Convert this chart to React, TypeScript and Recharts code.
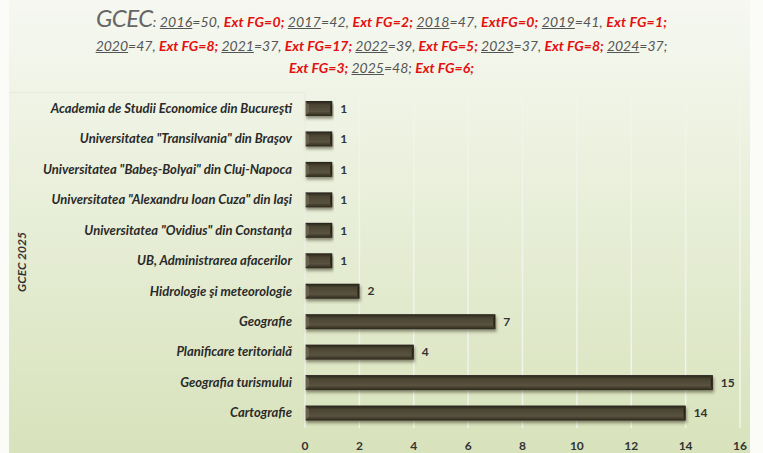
import React from 'react';
import {
  BarChart,
  Bar,
  XAxis,
  YAxis,
  CartesianGrid,
  LabelList,
} from 'recharts';

const categories = [
  'Academia de Studii Economice din Bucureşti',
  'Universitatea "Transilvania" din Braşov',
  'Universitatea "Babeş-Bolyai" din Cluj-Napoca',
  'Universitatea "Alexandru Ioan Cuza" din Iaşi',
  'Universitatea "Ovidius" din Constanţa',
  'UB, Administrarea afacerilor',
  'Hidrologie şi meteorologie',
  'Geografie',
  'Planificare teritorială',
  'Geografia turismului',
  'Cartografie',
];
const values = [1, 1, 1, 1, 1, 1, 2, 7, 4, 15, 14];
const xTicks = [0, 2, 4, 6, 8, 10, 12, 14, 16];

const years = ['2016', '2017', '2018', '2019', '2020', '2021', '2022', '2023', '2024', '2025'];
const totals = [50, 42, 47, 41, 47, 37, 39, 37, 37, 48];
const extFG = [0, 2, 0, 1, 8, 17, 5, 8, 3, 6];

const data = categories.map((name, i) => ({ name, value: values[i] }));

const FONT = 'Lato, "Open Sans", sans-serif';
const RED = '#e31010';
const GRAY = '#555';

function Entry({ i, extLabel = 'Ext FG', yearOnly = false }: any) {
  return (
    <span>
      <span style={{ textDecoration: 'underline' }}>{years[i]}</span>
      <span>={totals[i]}{yearOnly ? ';' : ','} </span>
      {!yearOnly && (
        <span style={{ color: RED, fontWeight: 'bold' }}>
          {extLabel}={extFG[i]};{' '}
        </span>
      )}
    </span>
  );
}

function Title() {
  return (
    <div
      style={{
        position: 'absolute',
        left: 0,
        top: 5,
        width: 763,
        textAlign: 'center',
        fontFamily: FONT,
        fontStyle: 'italic',
        color: GRAY,
        fontSize: 14,
        lineHeight: '22px',
      }}
    >
      <div style={{ paddingLeft: 0, lineHeight: '26px', letterSpacing: 0.15 }}>
        <span style={{ fontSize: 24, color: '#666', letterSpacing: -0.5 }}>GCEC</span>
        <span>: </span>
        <Entry i={0} />
        <Entry i={1} />
        <Entry i={2} extLabel="ExtFG" />
        <Entry i={3} />
      </div>
      <div>
        <Entry i={4} />
        <Entry i={5} />
        <Entry i={6} />
        <Entry i={7} />
        <Entry i={8} yearOnly />
      </div>
      <div>
        <span style={{ color: RED, fontWeight: 'bold' }}>Ext FG={extFG[8]}; </span>
        <span style={{ textDecoration: 'underline' }}>{years[9]}</span>
        <span>={totals[9]}; </span>
        <span style={{ color: RED, fontWeight: 'bold' }}>Ext FG={extFG[9]};</span>
      </div>
    </div>
  );
}

function CategoryTick(props: any) {
  const { x, y, payload } = props;
  return (
    <text
      x={x}
      y={y}
      dy="0.35em"
      textAnchor="end"
      fill="#2a2a2a"
      fontFamily={FONT}
      fontSize={13}
      fontWeight="bold"
      fontStyle="italic"
    >
      {payload.value}
    </text>
  );
}

function BevelBar(props: any) {
  const { x, y, width, height } = props;
  if (!width || width <= 0) return null;
  const b = Math.min(4, height / 3);
  return (
    <g filter="url(#barShadow)">
      <rect x={x} y={y} width={width} height={height} fill="url(#barGrad)" />
      <polygon
        points={`${x},${y} ${x + b},${y + b} ${x + b},${y + height - b} ${x},${y + height}`}
        fill="#6e6650"
        opacity={0.8}
      />
      <polygon
        points={`${x + width},${y} ${x + width - 2},${y + b} ${x + width - 2},${y + height - b} ${x + width},${y + height}`}
        fill="#1f1c12"
        opacity={0.8}
      />
    </g>
  );
}

export default function App() {
  return (
    <div
      style={{
        position: 'absolute',
        left: 0,
        top: 0,
        width: 763,
        height: 453,
        background: '#fbfcf8',
        overflow: 'hidden',
      }}
    >
      <div
        style={{
          position: 'absolute',
          left: 9,
          top: 0,
          width: 741,
          height: 453,
          background: 'linear-gradient(to bottom, #f6f8f1 0%, #eaf0dc 40%, #d8e2bb 100%)',
        }}
      />
      <div
        style={{
          position: 'absolute',
          left: 10,
          top: 92,
          width: 295,
          height: 1,
          background: '#e6eadb',
        }}
      />
      <Title />
      <div
        style={{
          position: 'absolute',
          left: 21,
          top: 262,
          transform: 'translate(-50%, -50%) rotate(-90deg)',
          fontFamily: FONT,
          fontStyle: 'italic',
          fontWeight: 'bold',
          fontSize: 12,
          color: '#333',
          whiteSpace: 'nowrap',
        }}
      >
        GCEC 2025
      </div>
      <div style={{ position: 'absolute', left: 0, top: 0 }}>
        <BarChart
          width={763}
          height={453}
          data={data}
          layout="vertical"
          margin={{ top: 93, right: 23, left: 0, bottom: 0 }}
          barSize={15}
        >
          <defs>
            <linearGradient id="barGrad" x1="0" y1="0" x2="0" y2="1">
              <stop offset="0%" stopColor="#25211a" />
              <stop offset="25%" stopColor="#4a4432" />
              <stop offset="70%" stopColor="#5a5340" />
              <stop offset="100%" stopColor="#2c281b" />
            </linearGradient>
            <filter id="barShadow" x="-5%" y="-30%" width="110%" height="180%">
              <feDropShadow dx="1" dy="2.5" stdDeviation="1.5" floodColor="#3a3520" floodOpacity="0.55" />
            </filter>
          </defs>
          <CartesianGrid horizontal={false} stroke="#f1f4ea" strokeWidth={1.5} />
          <XAxis
            type="number"
            domain={[0, 16]}
            ticks={xTicks}
            axisLine={false}
            tickLine={false}
            tickMargin={7}
            height={25}
            tick={{ fontSize: 12, fill: '#333', fontWeight: 'bold', fontFamily: FONT }}
          />
          <YAxis
            type="category"
            dataKey="name"
            width={305}
            axisLine={{ stroke: '#e6eadb' }}
            tickLine={false}
            tickMargin={7}
            interval={0}
            tick={<CategoryTick />}
          />
          <Bar dataKey="value" shape={<BevelBar />} isAnimationActive={false}>
            <LabelList
              dataKey="value"
              position="right"
              offset={8}
              style={{ fontSize: 12, fill: '#333', fontWeight: 'bold', fontFamily: FONT }}
            />
          </Bar>
        </BarChart>
      </div>
    </div>
  );
}
